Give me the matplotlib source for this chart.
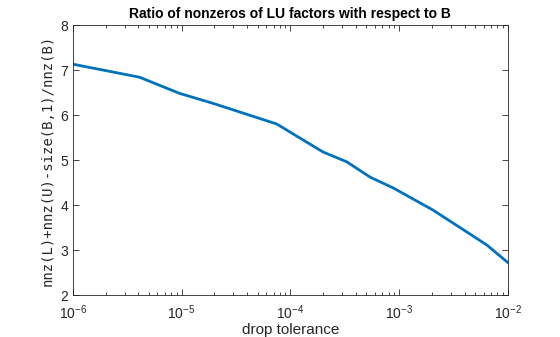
import numpy as np
from matplotlib import pyplot as plt
from matplotlib.ticker import LogLocator, FixedLocator

# drop tolerance vs fill ratio
drop_tol = [1e-6, 4.1e-6, 9.6e-6, 1.94e-5, 7.5e-5, 1.3e-4, 1.99e-4,
            3.3e-4, 5.4e-4, 8.8e-4, 2.04e-3, 3.62e-3, 6.41e-3, 1e-2]
ratio = [7.13, 6.84, 6.48, 6.26, 5.80, 5.45, 5.18,
         4.96, 4.62, 4.38, 3.89, 3.50, 3.11, 2.72]

xticks = [1e-6, 1e-5, 1e-4, 1e-3, 1e-2]
xtick_labels = [r"$10^{-6}$", r"$10^{-5}$", r"$10^{-4}$", r"$10^{-3}$", r"$10^{-2}$"]
yticks = [2, 3, 4, 5, 6, 7, 8]

plt.rcParams["font.family"] = ["Liberation Sans", "DejaVu Sans"]
plt.rcParams["mathtext.fontset"] = "custom"
plt.rcParams["mathtext.rm"] = "Liberation Sans"
plt.rcParams["mathtext.it"] = "Liberation Sans"

dark = "#262626"

fig = plt.figure(figsize=(5.6, 3.37), dpi=100)
ax = fig.add_axes([0.130, 0.1246, 0.777, 0.8012])

ax.plot(drop_tol, ratio, color="#0072BD", lw=2)

ax.set_xscale("log")
ax.set_xlim(1e-6, 1e-2)
ax.set_ylim(2, 8)
ax.xaxis.set_major_locator(FixedLocator(xticks))
ax.set_xticklabels(xtick_labels)
ax.xaxis.set_minor_locator(LogLocator(base=10, subs=np.arange(2, 10)))
ax.set_yticks(yticks)

ax.tick_params(which="both", direction="in", top=True, right=True,
               colors=dark, labelsize=10, width=0.6)
ax.tick_params(which="major", length=4)
ax.tick_params(which="minor", length=2)
ax.tick_params(axis="x", which="major", pad=6)
for sp in ax.spines.values():
    sp.set_color(dark)
    sp.set_linewidth(0.6)

ax.set_title("Ratio of nonzeros of LU factors with respect to B",
             fontsize=10, fontweight="bold", color="black", pad=5)
ax.set_xlabel("drop tolerance", fontsize=11, color=dark, labelpad=1)
ax.set_ylabel("nnz(L)+nnz(U)-size(B,1)/nnz(B)", fontsize=10, color=dark,
              family=["DejaVu Sans Mono"], labelpad=4)

fig.savefig("out.png", dpi=100)
